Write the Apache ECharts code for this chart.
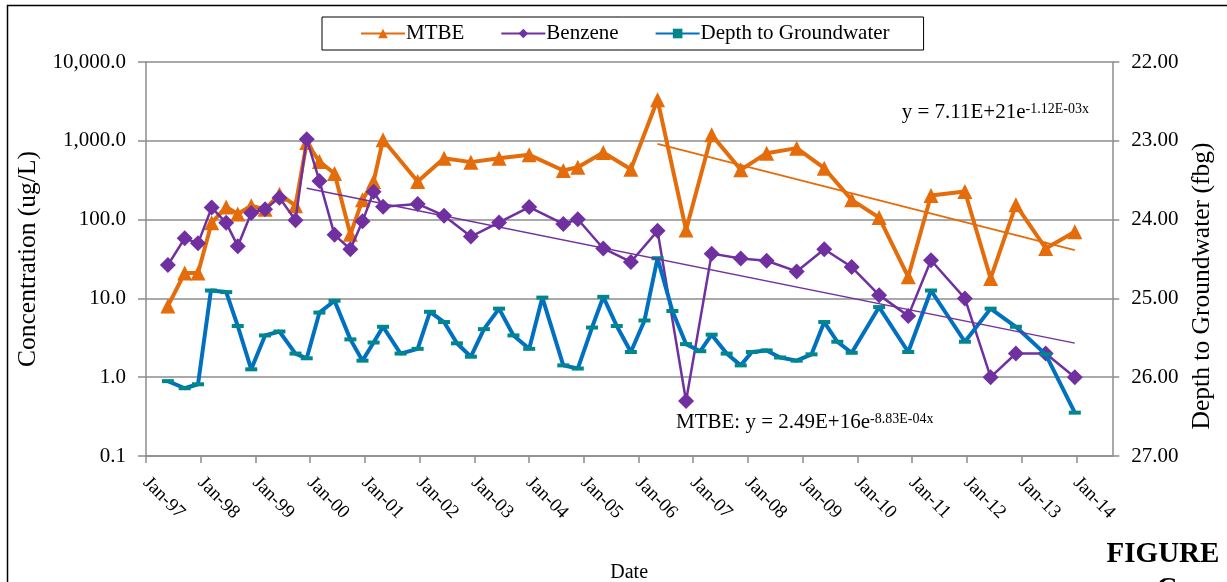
<!DOCTYPE html>
<html><head><meta charset="utf-8">
<script src="https://cdn.jsdelivr.net/npm/echarts@6/dist/echarts.min.js"></script>
<style>html,body{margin:0;padding:0;background:#fff}#c{width:1227px;height:582px}</style>
</head><body><div id="c"></div>
<script>
// ---- data ----
const sampleDates = ['1997-05-27','1997-09-16','1997-12-14','1998-03-15','1998-06-20','1998-09-05','1998-12-04','1999-03-06','1999-06-10','1999-09-25','1999-12-09','2000-03-03','2000-06-12','2000-09-26','2000-12-16','2001-02-28','2001-05-02','2001-12-19','2002-06-13','2002-12-09','2003-06-15','2004-01-02','2004-08-17','2004-11-22','2005-05-11','2005-11-11','2006-05-08','2006-11-14','2007-05-04','2007-11-14','2008-05-05','2008-11-22','2009-05-25','2009-11-24','2010-05-26','2010-12-06','2011-05-07','2011-12-19','2012-06-08','2012-11-24','2013-06-11','2013-12-22'];
const mtbeValues = [8.0,21,21,91,145,118,150,135,210,150,950,545,385,65,178,305,1030,304,600,536,600,664,420,463,711,436,3320,74,1190,428,697,807,449,178,106,18.8,202,227,17.9,154,43,70];
const benzeneValues = [26.5,58,50,142,91,46,121,135,190,98,1050,310,64,42,95,226,146,158,112,61,92,144,88,101,43,29,72,0.5,37,32,30,22,42,25,11,6.0,30.5,10,1.0,2.0,2.0,1.0];
const depthDates = ['1997-05-27','1997-09-16','1997-12-14','1998-03-10','1998-06-20','1998-09-05','1998-12-04','1999-03-06','1999-06-10','1999-09-25','1999-12-09','2000-03-03','2000-06-12','2000-09-26','2000-12-16','2001-02-28','2001-05-02','2001-08-27','2001-12-19','2002-03-11','2002-06-13','2002-09-07','2002-12-09','2003-03-06','2003-06-15','2003-09-19','2004-01-02','2004-03-30','2004-08-17','2004-11-22','2005-02-25','2005-05-11','2005-08-09','2005-11-11','2006-02-10','2006-05-08','2006-08-15','2006-11-14','2007-02-17','2007-05-04','2007-08-12','2007-11-14','2008-01-27','2008-05-05','2008-08-03','2008-11-22','2009-03-01','2009-05-25','2009-08-20','2009-11-24','2010-05-26','2010-12-06','2011-05-07','2011-12-19','2012-06-08','2012-11-24','2013-06-11','2013-12-22'];
const depthValues = [26.05,26.14,26.09,24.90,24.92,25.35,25.90,25.47,25.42,25.70,25.76,25.18,25.03,25.52,25.79,25.56,25.36,25.70,25.64,25.17,25.30,25.57,25.74,25.39,25.13,25.47,25.64,24.99,25.85,25.89,25.37,24.98,25.35,25.68,25.28,24.49,25.16,25.58,25.67,25.46,25.70,25.85,25.68,25.66,25.75,25.79,25.71,25.30,25.55,25.69,25.11,25.68,24.90,25.55,25.13,25.36,25.71,26.45];
const mtbeTrendDates = ['2006-05-08','2013-12-22'];
const mtbeTrendValues = [915, 41];
const benzeneTrendDates = ['1999-12-09','2013-12-22'];
const benzeneTrendValues = [250, 2.7];
const xMinYear = 1997;
const xMaxYear = 2014.658;
const seriesNames = ['MTBE','Benzene','Depth to Groundwater'];
const mtbeTrendLabel = ['y = 7.11E+21e', '-1.12E-03x'];
const benzeneTrendLabel = ['MTBE: y = 2.49E+16e', '-8.83E-04x'];

// ---- helpers ----
function toYear(s){
  const p = s.split('-').map(Number);
  const a = Date.UTC(p[0],0,1), b = Date.UTC(p[0]+1,0,1);
  return p[0] + (Date.UTC(p[0],p[1]-1,p[2]) - a)/(b - a);
}
function pairs(dates, vals){ return dates.map((d,i)=>[toYear(d), vals[i]]); }

const FONT = '"Liberation Serif", "DejaVu Serif", serif';
const GRID = '#8c8c8c';
const ORANGE = '#E46C0A', PURPLE = '#7030A0', BLUE = '#0070C0', TEAL = '#00868B';

const chart = echarts.init(document.getElementById('c'), null, {renderer:'canvas'});
chart.setOption({
  animation: false,
  backgroundColor: '#fff',
  textStyle: {fontFamily: FONT, color: '#000'},
  grid: {left: 146, top: 62, width: 966.3, height: 394, containLabel: false, outerBoundsMode: 'none'},
  legend: {
    data: seriesNames,
    left: 322, top: 17,
    padding: [6, 34, 6, 38],
    itemGap: 36, itemWidth: 44, itemHeight: 12,
    borderColor: '#000', borderWidth: 1,
    textStyle: {fontFamily: FONT, fontSize: 21, color: '#000', padding: [0,0,0,-4]}
  },
  xAxis: {
    type: 'value', min: xMinYear, max: xMaxYear, interval: 1,
    name: 'Date', nameLocation: 'middle', nameGap: 107,
    nameTextStyle: {fontFamily: FONT, fontSize: 20, color: '#000'},
    axisLine: {show: true, onZero: false, lineStyle: {color: GRID, width: 1.5}},
    axisTick: {show: true, length: 7, lineStyle: {color: GRID, width: 1.5}},
    splitLine: {show: false},
    axisLabel: {
      rotate: -45, margin: 24, fontFamily: FONT, fontSize: 19, color: '#000',
      showMaxLabel: false,
      formatter: v => Math.abs(v - Math.round(v)) < 1e-6 ? 'Jan-' + String(Math.round(v) % 100).padStart(2,'0') : ''
    }
  },
  yAxis: [{
    type: 'log', logBase: 10, min: 0.1, max: 10000,
    name: 'Concentration (ug/L)', nameLocation: 'middle', nameGap: 97, nameRotate: 90,
    nameTextStyle: {fontFamily: FONT, fontSize: 25.5, color: '#000'},
    axisLine: {show: true, lineStyle: {color: GRID, width: 1.5}},
    axisTick: {show: true, length: 8, lineStyle: {color: GRID, width: 1.5}},
    minorTick: {show: false},
    splitLine: {show: true, lineStyle: {color: GRID, width: 1.5}},
    axisLabel: {
      margin: 20, fontFamily: FONT, fontSize: 21, color: '#000',
      formatter: v => Number(v).toLocaleString('en-US', {minimumFractionDigits: 1, maximumFractionDigits: 1})
    }
  }, {
    type: 'value', min: 22, max: 27, interval: 1, inverse: true, position: 'right',
    name: 'Depth to Groundwater (fbg)', nameLocation: 'middle', nameGap: 77, nameRotate: 90,
    nameTextStyle: {fontFamily: FONT, fontSize: 25.5, color: '#000', padding: [0, 54, 0, 0]},
    axisLine: {show: true, lineStyle: {color: GRID, width: 1.5}},
    axisTick: {show: true, length: 7, lineStyle: {color: GRID, width: 1.5}},
    splitLine: {show: false},
    axisLabel: {margin: 19, fontFamily: FONT, fontSize: 21, color: '#000', formatter: v => Number(v).toFixed(2)}
  }],
  series: [{
    name: seriesNames[0], type: 'line', yAxisIndex: 0,
    data: pairs(sampleDates, mtbeValues),
    symbol: 'triangle', symbolSize: 15,
    lineStyle: {color: ORANGE, width: 4}, itemStyle: {color: ORANGE}, z: 2
  }, {
    name: seriesNames[1], type: 'line', yAxisIndex: 0,
    data: pairs(sampleDates, benzeneValues),
    symbol: 'diamond', symbolSize: 16,
    lineStyle: {color: PURPLE, width: 2.5}, itemStyle: {color: PURPLE}, z: 3
  }, {
    name: seriesNames[2], type: 'line', yAxisIndex: 1,
    data: pairs(depthDates, depthValues),
    symbol: 'rect', symbolSize: [12, 4],
    lineStyle: {color: BLUE, width: 4}, itemStyle: {color: TEAL}, z: 4
  }, {
    name: 'MTBE trend', type: 'line', yAxisIndex: 0,
    data: pairs(mtbeTrendDates, mtbeTrendValues),
    symbol: 'none', lineStyle: {color: ORANGE, width: 1.8}, z: 5, silent: true
  }, {
    name: 'Benzene trend', type: 'line', yAxisIndex: 0,
    data: pairs(benzeneTrendDates, benzeneTrendValues),
    symbol: 'none', lineStyle: {color: PURPLE, width: 1.3}, z: 5, silent: true
  }],
  graphic: [{
    type: 'polyline', silent: true,
    shape: {points: [[7.5, 582], [7.5, 5.5], [1227, 5.5]]},
    style: {stroke: '#000', lineWidth: 1.5, fill: null}
  }, {
    type: 'text', x: 901.7, y: 102,
    style: {
      text: '{a|' + mtbeTrendLabel[0] + '}{b|' + mtbeTrendLabel[1] + '}',
      verticalAlign: 'top', fill: '#000',
      rich: {a: {fontFamily: FONT, fontSize: 21, lineHeight: 21}, b: {fontFamily: FONT, fontSize: 14, lineHeight: 14, verticalAlign: 'top'}}
    }
  }, {
    type: 'text', x: 676, y: 412,
    style: {
      text: '{a|' + benzeneTrendLabel[0] + '}{b|' + benzeneTrendLabel[1] + '}',
      verticalAlign: 'top', fill: '#000',
      rich: {a: {fontFamily: FONT, fontSize: 21, lineHeight: 21}, b: {fontFamily: FONT, fontSize: 14, lineHeight: 14, verticalAlign: 'top'}}
    }
  }, {
    type: 'text', x: 1163, y: 555,
    style: {text: 'FIGURE', fontFamily: FONT, fontSize: 29, fontWeight: 'bold', fill: '#000', align: 'center', verticalAlign: 'middle'}
  }, {
    type: 'text', x: 1167, y: 590,
    style: {text: 'C', fontFamily: FONT, fontSize: 29, fontWeight: 'bold', fill: '#000', align: 'center', verticalAlign: 'middle'}
  }]
});
</script>
</body></html>
